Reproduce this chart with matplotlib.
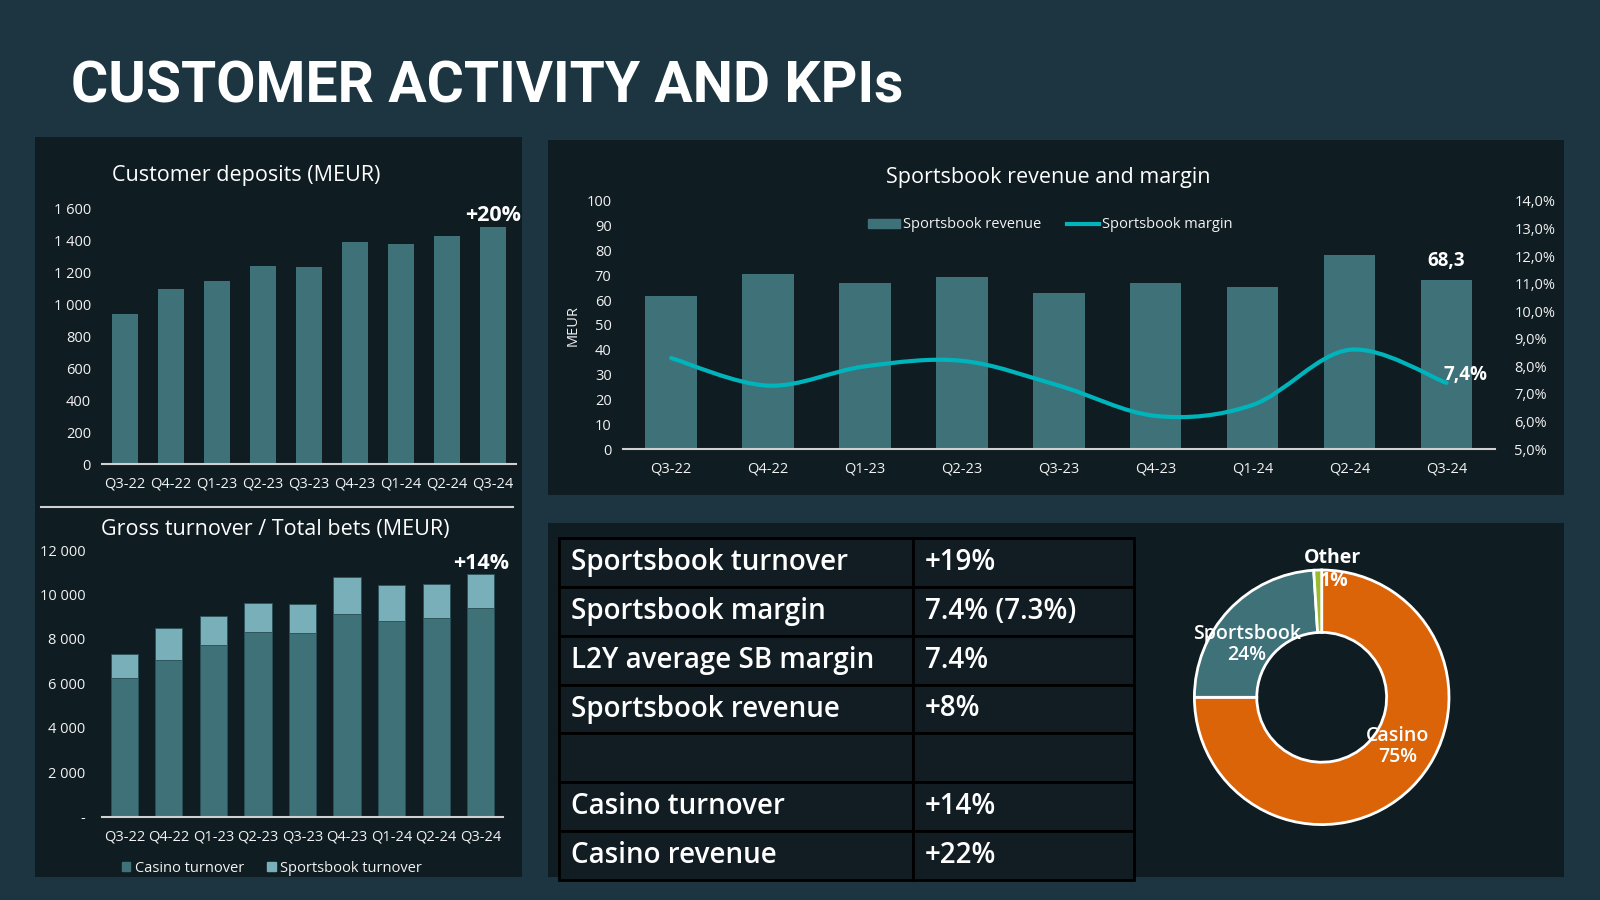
import matplotlib
matplotlib.use("Agg")
import matplotlib.pyplot as plt
from matplotlib.patches import Rectangle, Patch
from matplotlib.lines import Line2D
from matplotlib.path import Path
from matplotlib.patches import PathPatch
import matplotlib.ticker as mticker
import numpy as np

# ---------------- data ----------------
quarters = ["Q3-22", "Q4-22", "Q1-23", "Q2-23", "Q3-23", "Q4-23", "Q1-24", "Q2-24", "Q3-24"]
deposits = [941, 1095, 1147, 1241, 1237, 1391, 1379, 1427, 1483]
casino_turnover = [6240, 7050, 7710, 8325, 8265, 9135, 8790, 8955, 9390]
sportsbook_turnover = [1065, 1425, 1320, 1305, 1290, 1665, 1635, 1515, 1545]
sb_revenue = [61.8, 70.4, 67.1, 69.4, 63.0, 66.8, 65.3, 78.2, 68.3]
sb_margin = [8.3, 7.3, 8.0, 8.2, 7.3, 6.2, 6.6, 8.6, 7.4]
kpi_labels = ["Sportsbook turnover", "Sportsbook margin", "L2Y average SB margin",
              "Sportsbook revenue", "", "Casino turnover", "Casino revenue"]
kpi_values = ["+19%", "7.4% (7.3%)", "7.4%", "+8%", "", "+14%", "+22%"]
mix_labels = ["Casino", "Sportsbook", "Other"]
mix_share = [75, 24, 1]

# ---------------- style ----------------
W, H = 1600, 900
BG = "#1D3541"
PANEL = "#0E1A20"
TEAL = "#3F7179"
LTEAL = "#79AFB9"
CYAN = "#00B4BC"
ORANGE = "#DB6409"
GREEN = "#9BBB2F"
TXT = "#F2F2F2"
AXL = "#D0D0D0"
FONT = ["Open Sans", "Noto Sans", "DejaVu Sans"]
plt.rcParams["font.family"] = FONT

fig = plt.figure(figsize=(16, 9), dpi=100, facecolor=BG)


def rect(x0, y0, x1, y1):
    return [x0 / W, 1 - y1 / H, (x1 - x0) / W, (y1 - y0) / H]


def ftext(x, y, s, **kw):
    return fig.text(x / W, 1 - y / H, s, **kw)


# background panels
for (x0, y0, x1, y1) in [(35, 137, 522, 877), (548, 140, 1564, 495), (548, 523, 1564, 877)]:
    fig.patches.append(Rectangle((x0 / W, 1 - y1 / H), (x1 - x0) / W, (y1 - y0) / H,
                                 transform=fig.transFigure, facecolor=PANEL,
                                 edgecolor="none", alpha=0.92, zorder=-10))
# separator in left panel
fig.add_artist(Line2D([41 / W, 513 / W], [1 - 507 / H, 1 - 507 / H],
                      transform=fig.transFigure, color=AXL, lw=1.5, zorder=1))

# main title
ftext(71, 87, "CUSTOMER ACTIVITY AND KPIs", color="white", fontsize=41, fontweight="bold",
      family=["Roboto", "DejaVu Sans"], fontstretch="condensed", va="center", ha="left")


def style_bar_axes(ax, ypad=12):
    ax.set_facecolor("none")
    ax.set_zorder(2)
    for s in ["top", "right", "left"]:
        ax.spines[s].set_visible(False)
    ax.spines["bottom"].set_color(AXL)
    ax.spines["bottom"].set_linewidth(1.5)
    ax.tick_params(axis="both", length=0, colors=TXT, labelsize=10.5)
    ax.tick_params(axis="x", pad=9)
    ax.tick_params(axis="y", pad=ypad)


x = np.arange(len(quarters))

# ---------------- customer deposits ----------------
ax1 = fig.add_axes(rect(102, 208.7, 516, 464.3))
style_bar_axes(ax1, ypad=8)
ax1.bar(x, deposits, width=0.56, color=TEAL)
ax1.set_xlim(-0.5, len(quarters) - 0.5)
ax1.set_ylim(0, 1600)
ax1.set_yticks(np.arange(0, 1601, 200))
ax1.yaxis.set_major_formatter(mticker.FuncFormatter(lambda v, p: f"{int(v):,}".replace(",", " ")))
ax1.set_xticks(x)
ax1.set_xticklabels(quarters)
ax1.annotate("+20%", (x[-1], deposits[-1]), xytext=(0, 1), textcoords="offset points",
             ha="center", va="bottom", color="white", fontsize=15.5, fontweight="bold")
ftext(246, 176, "Customer deposits (MEUR)", color="white", fontsize=15.5, ha="center", va="center")

# ---------------- gross turnover ----------------
ax2 = fig.add_axes(rect(102, 550, 503, 816.7))
style_bar_axes(ax2, ypad=12)
ax2.bar(x, casino_turnover, width=0.61, color=TEAL, edgecolor="#2B5057", lw=0.6)
ax2.bar(x, sportsbook_turnover, bottom=casino_turnover, width=0.61, color=LTEAL,
        edgecolor="#2B5057", lw=0.6)
ax2.set_xlim(-0.5, len(quarters) - 0.5)
ax2.set_ylim(0, 12000)
ax2.set_yticks(np.arange(0, 12001, 2000))
ax2.yaxis.set_major_formatter(mticker.FuncFormatter(
    lambda v, p: "-" if v == 0 else f"{int(v):,}".replace(",", " ")))
ax2.set_xticks(x)
ax2.set_xticklabels(quarters)
tot = [c + s for c, s in zip(casino_turnover, sportsbook_turnover)]
ax2.annotate("+14%", (x[-1], tot[-1]), xytext=(0, 0), textcoords="offset points",
             ha="center", va="bottom", color="white", fontsize=15.5, fontweight="bold")
ftext(275, 530, "Gross turnover / Total bets (MEUR)", color="white", fontsize=15.5,
      ha="center", va="center")
fig.legend(handles=[Patch(color=TEAL, label="Casino turnover"),
                    Patch(color=LTEAL, label="Sportsbook turnover")],
           loc="center", bbox_to_anchor=(272 / W, 1 - 868 / H), ncol=2, frameon=False,
           fontsize=10.5, handlelength=0.6, handleheight=0.6, handletextpad=0.3,
           columnspacing=1.6, labelcolor=TXT)

# ---------------- sportsbook revenue & margin ----------------
ax3 = fig.add_axes(rect(622.7, 201, 1495, 449))
style_bar_axes(ax3, ypad=8)
ax3.bar(x, sb_revenue, width=0.53, color=TEAL)
ax3.set_xlim(-0.5, len(quarters) - 0.5)
ax3.set_ylim(0, 100)
ax3.set_yticks(np.arange(0, 101, 10))
ax3.set_xticks(x)
ax3.set_xticklabels(quarters)
ax3.set_ylabel("MEUR", color=TXT, fontsize=10.5, labelpad=4)
ax3.annotate(f"{sb_revenue[-1]:.1f}".replace(".", ","), (x[-1], sb_revenue[-1]), xytext=(0, 6),
             textcoords="offset points", ha="center", va="bottom", color="white",
             fontsize=13.5, fontweight="bold")

ax3b = ax3.twinx()
ax3b.set_zorder(3)
ax3b.set_facecolor("none")
ax3b.set_ylim(5, 14)
ax3b.set_yticks(np.arange(5, 14.01, 1))
ax3b.yaxis.set_major_formatter(mticker.FuncFormatter(lambda v, p: f"{v:.1f}%".replace(".", ",")))
for s in ["top", "right", "left", "bottom"]:
    ax3b.spines[s].set_visible(False)
ax3b.tick_params(axis="y", length=0, colors=TXT, labelsize=10.5, pad=14)

# smooth line (Catmull-Rom style bezier through data points)
pts = np.column_stack([x, sb_margin]).astype(float)
verts = [tuple(pts[0])]
codes = [Path.MOVETO]
n = len(pts)
for i in range(n - 1):
    p0 = pts[max(i - 1, 0)]
    p1 = pts[i]
    p2 = pts[i + 1]
    p3 = pts[min(i + 2, n - 1)]
    c1 = p1 + (p2 - p0) / 6.0
    c2 = p2 - (p3 - p1) / 6.0
    verts += [tuple(c1), tuple(c2), tuple(p2)]
    codes += [Path.CURVE4] * 3
ax3b.add_patch(PathPatch(Path(verts, codes), facecolor="none", edgecolor=CYAN, lw=3,
                         capstyle="round", joinstyle="round"))
ax3b.annotate(f"{sb_margin[-1]:.1f}%".replace(".", ","), (x[-1], sb_margin[-1]), xytext=(14, 6),
              textcoords="offset points", ha="center", va="center", color="white",
              fontsize=13.5, fontweight="bold")

ftext(1048, 177, "Sportsbook revenue and margin", color="white", fontsize=15.5,
      ha="center", va="center")
fig.legend(handles=[Patch(color=TEAL, label="Sportsbook revenue"),
                    Line2D([], [], color=CYAN, lw=3, label="Sportsbook margin")],
           loc="center", bbox_to_anchor=(1050 / W, 1 - 225 / H), ncol=2, frameon=False,
           fontsize=10.5, handlelength=2.2, handleheight=0.6, handletextpad=0.2,
           columnspacing=1.8, labelcolor=TXT)

# ---------------- KPI table ----------------
axt = fig.add_axes(rect(559, 538, 1134, 880))
axt.set_zorder(2)
axt.set_xlim(0, 1)
axt.set_ylim(len(kpi_labels), 0)
axt.axis("off")
split = (913 - 559) / (1134 - 559)
for i, (lab, val) in enumerate(zip(kpi_labels, kpi_values)):
    axt.add_patch(Rectangle((0, i), split, 1, facecolor="#111D23", edgecolor="black", lw=2,
                            clip_on=False))
    axt.add_patch(Rectangle((split, i), 1 - split, 1, facecolor="#111D23", edgecolor="black",
                            lw=2, clip_on=False))
    axt.text(0.021, i + 0.5, lab, color="white", fontsize=20, va="center", ha="left",
             fontweight="semibold")
    axt.text(split + 0.021, i + 0.5, val, color="white", fontsize=20, va="center", ha="left",
             fontweight="semibold")

# ---------------- donut ----------------
cx, cy, R = 1321.7, 697.3, 127.3
half = 170
axd = fig.add_axes(rect(cx - half, cy - half, cx + half, cy + half))
axd.set_zorder(2)
wedges, _ = axd.pie(mix_share, colors=[ORANGE, TEAL, GREEN], startangle=90, counterclock=False,
                    radius=R, wedgeprops=dict(width=R * 0.49, edgecolor="white", linewidth=2),
                    frame=True)
axd.set_xlim(-half, half)
axd.set_ylim(-half, half)
axd.set_aspect("equal")
axd.axis("off")
label_dist = {"Casino": 0.71, "Sportsbook": 0.72, "Other": 1.0}
angle_shift = {"Casino": 12, "Sportsbook": 8, "Other": -4}
for w, lab, sh in zip(wedges, mix_labels, mix_share):
    ang = np.deg2rad((w.theta1 + w.theta2) / 2 + angle_shift[lab])
    d = label_dist[lab] * R
    tx, ty = d * np.cos(ang), d * np.sin(ang)
    if lab == "Other":
        axd.text(tx + 6, ty + 12, lab, color="white", fontsize=14, fontweight="bold",
                 ha="center", va="center")
        axd.text(tx + 8, ty - 11, f"{sh}%", color="white", fontsize=14, fontweight="bold",
                 ha="center", va="center")
    else:
        axd.text(tx, ty, f"{lab}\n{sh}%", color="white", fontsize=14, fontweight="semibold",
                 ha="center", va="center", linespacing=1.05)

fig.savefig("out.png", dpi=100, facecolor=BG)
